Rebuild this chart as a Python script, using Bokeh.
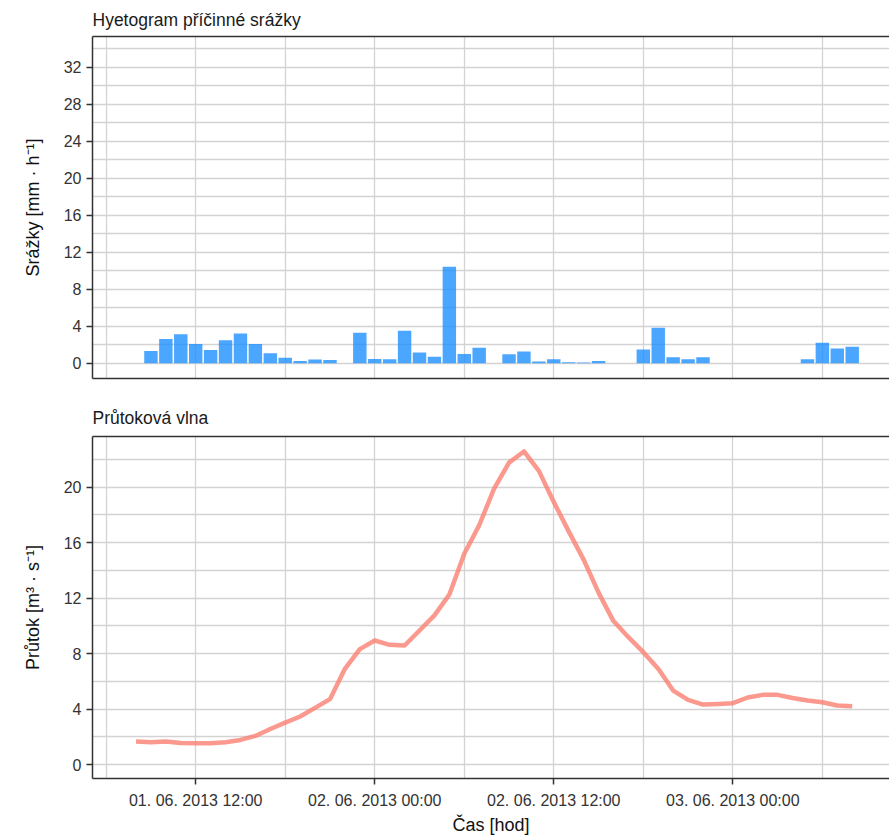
import pandas as pd
from bokeh.plotting import figure
from bokeh.layouts import column
from bokeh.models import (FixedTicker, DatetimeTickFormatter, Range1d, LinearAxis,
                          ColumnDataSource, Grid)
from bokeh.embed import file_html
from bokeh.resources import INLINE

# ---------------- data ----------------
rain_start = "2013-06-01 09:00"          # hourly values
rain_mm_h = [1.33, 2.63, 3.14, 2.09, 1.44, 2.49, 3.20, 2.09, 1.08, 0.58, 0.25, 0.40, 0.36, 0.00, 3.28,
             0.47, 0.43, 3.50, 1.15, 0.69, 10.43, 1.00, 1.66, 0.00, 0.97, 1.26, 0.18, 0.43, 0.10, 0.07,
             0.25, 0.00, 0.00, 1.48, 3.82, 0.65, 0.43, 0.65, 0.00,
             0.00, 0.00, 0.00, 0.00, 0.00, 0.43, 2.20, 1.59, 1.77]

flow_start = "2013-06-01 08:00"          # hourly values
flow_m3_s = [1.66, 1.61, 1.66, 1.56, 1.54, 1.54, 1.61, 1.78, 2.07, 2.57, 3.03, 3.47, 4.09, 4.72,
             6.91, 8.33, 8.95, 8.64, 8.59, 9.67, 10.76, 12.27, 15.21, 17.26, 19.90, 21.78, 22.58,
             21.18, 18.94, 16.82, 14.78, 12.40, 10.35, 9.19, 8.11, 6.91, 5.34, 4.67, 4.33, 4.38,
             4.43, 4.84, 5.03, 5.03, 4.81, 4.62, 4.50, 4.26, 4.21]

x_major_ticks = ["2013-06-01 12:00", "2013-06-02 00:00", "2013-06-02 12:00", "2013-06-03 00:00"]
x_minor_ticks = ["2013-06-01 06:00", "2013-06-01 18:00", "2013-06-02 06:00", "2013-06-02 18:00",
                 "2013-06-03 06:00"]
rain_ticks = [0, 4, 8, 12, 16, 20, 24, 28, 32]
rain_minor = [2, 6, 10, 14, 18, 22, 26, 30, 34]
flow_ticks = [0, 4, 8, 12, 16, 20]
flow_minor = [2, 6, 10, 14, 18, 22]

title_top = "Hyetogram příčinné srážky"
title_bottom = "Průtoková vlna"
ylabel_top = "Srážky [mm · h⁻¹]"
ylabel_bottom = "Průtok [m³ · s⁻¹]"
xlabel = "Čas [hod]"


def ms(s):
    return pd.Timestamp(s).value / 1e6


H = 3600000.0
rain_x = [ms(t) for t in pd.date_range(rain_start, periods=len(rain_mm_h), freq="h")]
flow_x = [ms(t) for t in pd.date_range(flow_start, periods=len(flow_m3_s), freq="h")]
major_x = [ms(t) for t in x_major_ticks]
minor_x = [ms(t) for t in x_minor_ticks]
x_start = ms("2013-06-01 05:05")
x_end = ms("2013-06-03 10:30")

FONT = "Liberation Sans"
AX = "#333333"
GRID = "#d3d3d3"


def base_fig(height, ymin, ymax, min_top, min_bottom, title, yticks, yminor, ylabel, standoff):
    p = figure(width=889, height=height, x_range=Range1d(x_start, x_end),
               y_range=Range1d(ymin, ymax), x_axis_type=None, y_axis_type=None,
               output_backend="svg", toolbar_location=None, title=title,
               min_border_left=92, min_border_right=0,
               min_border_top=min_top, min_border_bottom=min_bottom)
    p.outline_line_color = None
    p.title.text_font = FONT
    p.title.text_font_size = "17.5px"
    p.title.text_font_style = "normal"
    p.title.text_color = "#1a1a1a"
    p.title.align = "left"
    p.title.offset = 0
    p.title.standoff = standoff

    p.add_layout(Grid(dimension=0, ticker=FixedTicker(ticks=major_x, minor_ticks=minor_x),
                      grid_line_color=GRID, grid_line_width=1.3,
                      minor_grid_line_color=GRID, minor_grid_line_width=1.3))
    p.add_layout(Grid(dimension=1, ticker=FixedTicker(ticks=yticks, minor_ticks=yminor),
                      grid_line_color=GRID, grid_line_width=1.3,
                      minor_grid_line_color=GRID, minor_grid_line_width=1.3))

    yax = LinearAxis(ticker=FixedTicker(ticks=yticks, minor_ticks=[]), axis_label=ylabel)
    yax.axis_line_color = AX
    yax.axis_line_width = 1.5
    yax.major_tick_line_color = AX
    yax.major_tick_line_width = 1.5
    yax.major_tick_out = 6
    yax.major_tick_in = 0
    yax.minor_tick_line_color = None
    yax.major_label_text_font = FONT
    yax.major_label_text_font_size = "16px"
    yax.major_label_text_color = "#333333"
    yax.major_label_standoff = 5
    yax.axis_label_text_font = FONT
    yax.axis_label_text_font_size = "18px"
    yax.axis_label_text_font_style = "normal"
    yax.axis_label_text_color = "#111111"
    yax.axis_label_standoff = 18
    p.add_layout(yax, "left")

    top = LinearAxis(ticker=FixedTicker(ticks=[]))
    top.axis_line_color = AX
    top.axis_line_width = 1.5
    top.major_tick_line_color = None
    top.minor_tick_line_color = None
    top.major_label_standoff = 0
    p.add_layout(top, "above")
    return p


# ---------------- top: hyetogram ----------------
p1 = base_fig(392, -1.65, 35.3, 36, 14, title_top, rain_ticks, rain_minor, ylabel_top, 14)
src1 = ColumnDataSource(dict(x=rain_x, top=rain_mm_h))
p1.vbar(x="x", top="top", bottom=0, width=0.9 * H, source=src1,
        fill_color="#1E90FF", fill_alpha=0.8, line_color=None)
b1 = LinearAxis(ticker=FixedTicker(ticks=[]))
b1.axis_line_color = AX
b1.axis_line_width = 1.5
b1.major_tick_line_color = None
b1.minor_tick_line_color = None
b1.major_label_standoff = 0
p1.add_layout(b1, "below")

# ---------------- bottom: hydrograph ----------------
p2 = base_fig(446, -1.0, 23.66, 44, 60, title_bottom, flow_ticks, flow_minor, ylabel_bottom, 18)
src2 = ColumnDataSource(dict(x=flow_x, y=flow_m3_s))
p2.line(x="x", y="y", source=src2, line_color="#FA8072", line_alpha=0.8, line_width=4.5,
        line_join="round")
fmt = "%d. %m. %Y %H:%M"
b2 = LinearAxis(ticker=FixedTicker(ticks=major_x, minor_ticks=[]),
                formatter=DatetimeTickFormatter(microseconds=fmt, milliseconds=fmt, seconds=fmt,
                                                minsec=fmt, minutes=fmt, hourmin=fmt, hours=fmt,
                                                days=fmt, months=fmt, years=fmt),
                axis_label=xlabel)
b2.axis_line_color = AX
b2.axis_line_width = 1.5
b2.major_tick_line_color = AX
b2.major_tick_line_width = 1.5
b2.major_tick_out = 6
b2.major_tick_in = 0
b2.minor_tick_line_color = None
b2.major_label_text_font = FONT
b2.major_label_text_font_size = "16px"
b2.major_label_text_color = "#333333"
b2.major_label_standoff = 7
b2.axis_label_text_font = FONT
b2.axis_label_text_font_size = "18px"
b2.axis_label_text_font_style = "normal"
b2.axis_label_text_color = "#111111"
b2.axis_label_standoff = 3
p2.add_layout(b2, "below")

layout = column(p1, p2, spacing=0)
open("out.html", "w").write(file_html(layout, INLINE))
